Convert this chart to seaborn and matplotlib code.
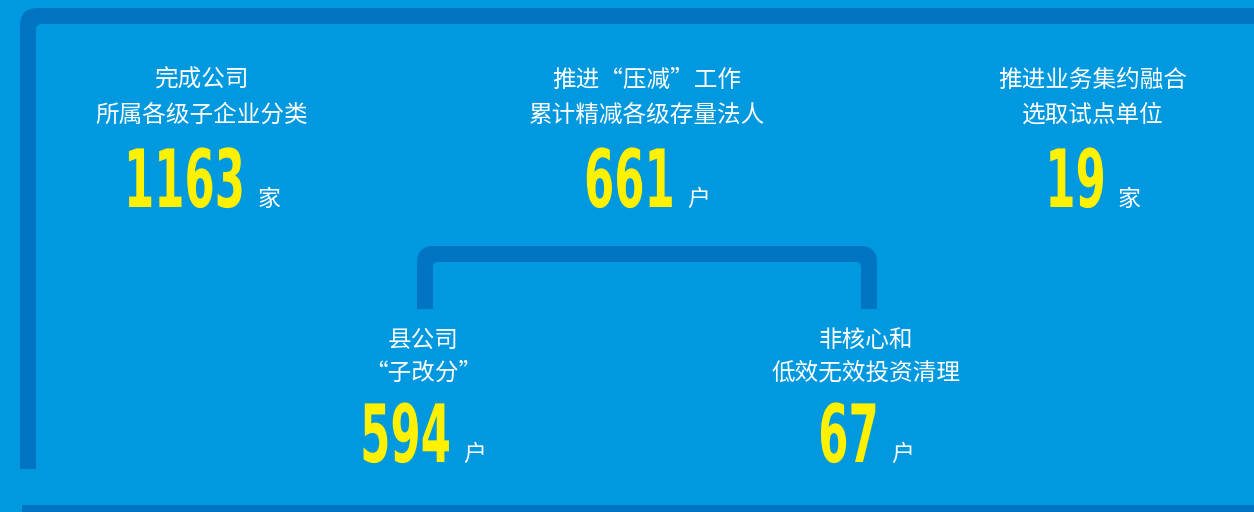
import matplotlib
matplotlib.use("Agg")
import matplotlib.pyplot as plt
from matplotlib.patches import FancyBboxPatch, Rectangle
from matplotlib.patheffects import AbstractPathEffect
from matplotlib.transforms import Affine2D
import seaborn as sns

# data
top_labels = [
    ["完成公司", "所属各级子企业分类"],
    ["推进“压减”工作", "累计精减各级存量法人"],
    ["推进业务集约融合", "选取试点单位"],
]
top_values = [1163, 661, 19]
top_units = ["家", "户", "家"]

bottom_labels = [
    ["县公司", "“子改分”"],
    ["非核心和", "低效无效投资清理"],
]
bottom_values = [594, 67]
bottom_units = ["户", "户"]

BG = "#0098df"
DARK = "#0073c1"
YELLOW = "#fff100"
CJK = ["Noto Sans CJK SC", "DejaVu Sans"]
# no condensed face installed: set the digits small and stretch them upward
NUM_SIZE = 31.3
STRETCH = 1.85


class Tall(AbstractPathEffect):
    """Stretch glyphs vertically about the baseline y0 (display coords)."""

    def __init__(self, sy):
        super().__init__()
        self.sy = sy
        self.y0 = 0.0

    def draw_path(self, renderer, gc, tpath, affine, rgbFace=None):
        t = affine + Affine2D().translate(0, -self.y0).scale(1, self.sy).translate(0, self.y0)
        renderer.draw_path(gc, tpath, t, rgbFace)


sns.set_theme(style="white")
plt.rcParams["font.family"] = CJK

fig = plt.figure(figsize=(12.54, 5.12), dpi=100)
fig.patch.set_facecolor(BG)
ax = fig.add_axes([0, 0, 1, 1])
ax.set_xlim(0, 1254)
ax.set_ylim(512, 0)
ax.axis("off")


def rounded(x0, y0, x1, y1, r, color, z):
    ax.add_patch(FancyBboxPatch((x0, y0), x1 - x0, y1 - y0,
                                boxstyle=f"round,pad=0,rounding_size={r}",
                                fc=color, ec="none", zorder=z))


# outer frame
rounded(20, 8, 1400, 800, 18, DARK, 1)
rounded(36, 24, 1400, 800, 6, BG, 2)
ax.add_patch(Rectangle((0, 469), 40, 60, fc=BG, ec="none", zorder=2))
ax.add_patch(Rectangle((22, 505), 1300, 20, fc=DARK, ec="none", zorder=3))

# bracket joining the lower items
rounded(417, 246, 877, 420, 17, DARK, 3)
rounded(433, 262, 861, 420, 5, BG, 4)
ax.add_patch(Rectangle((400, 309), 500, 120, fc=BG, ec="none", zorder=4))

fig.canvas.draw()
renderer = fig.canvas.get_renderer()


def block(cx, y_lines, lines, value, unit, base):
    for y, s in zip(y_lines, lines):
        ax.text(cx, y, s, ha="center", va="center", color="white",
                fontsize=17, fontweight="light", zorder=10)
    eff = Tall(STRETCH)
    num = ax.text(0, base, str(value), ha="left", va="baseline",
                  color=YELLOW, fontsize=NUM_SIZE, fontweight="bold",
                  family="DejaVu Sans", zorder=10, path_effects=[eff])
    un = ax.text(0, base - 1, unit, ha="left", va="baseline", color="white",
                 fontsize=16.5, fontweight="light", zorder=10)
    wn = num.get_window_extent(renderer).width
    wu = un.get_window_extent(renderer).width
    gap = 12
    left = cx - (wn + gap + wu) / 2
    num.set_x(left)
    un.set_x(left + wn + gap)
    eff.y0 = ax.transData.transform((left, base))[1]


top_x = [202, 647, 1093]
for cx, lines, v, u in zip(top_x, top_labels, top_values, top_units):
    block(cx, [80, 115], lines, v, u, 207)

bottom_x = [423, 866]
for cx, lines, v, u in zip(bottom_x, bottom_labels, bottom_values, bottom_units):
    block(cx, [340, 373], lines, v, u, 462)

fig.savefig("out.png", dpi=100, facecolor=BG)
